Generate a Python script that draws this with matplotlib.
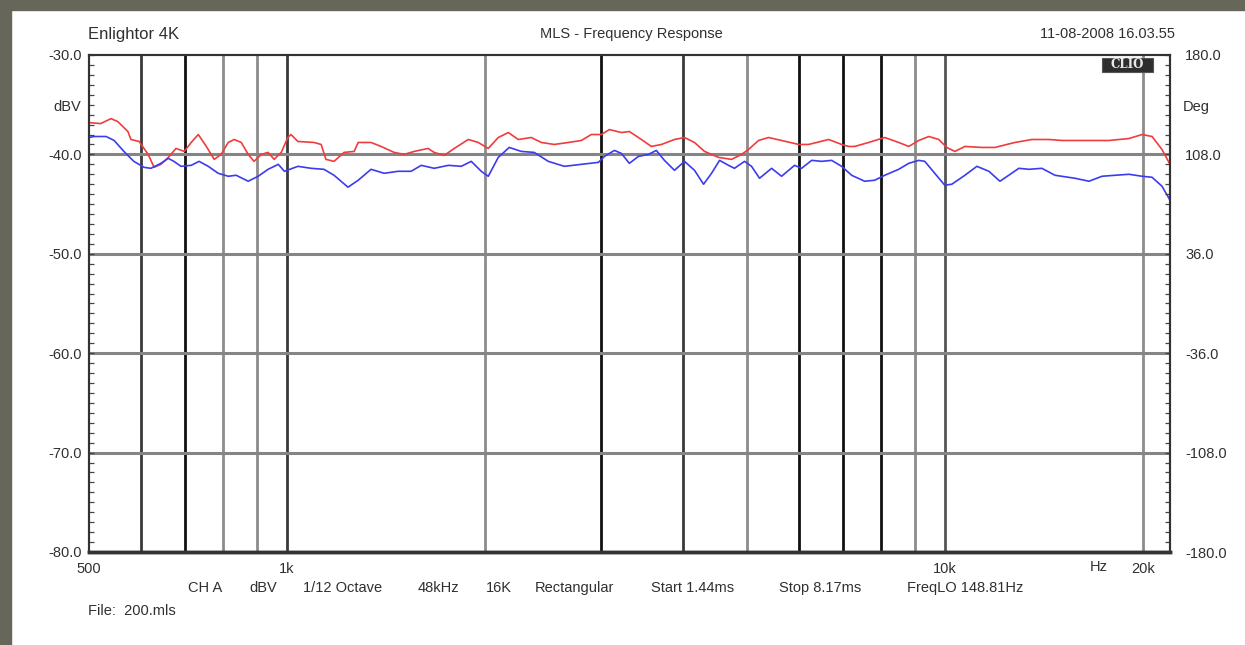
import matplotlib
matplotlib.use('Agg')
import matplotlib.pyplot as plt
from matplotlib.patches import Rectangle
from matplotlib.ticker import MultipleLocator, NullLocator

plt.rcParams['font.family'] = ['Liberation Sans', 'DejaVu Sans']

# ---------------- data ----------------
red_freq = [500, 521, 540, 553, 573, 579, 596, 615, 628, 643, 660, 678, 698, 715, 733, 754, 775, 794,
            814, 831, 852, 873, 891, 914, 936, 956, 980, 1003, 1014, 1039, 1099, 1127, 1146, 1179, 1221,
            1265, 1283, 1342, 1390, 1455, 1507, 1561, 1639, 1674, 1734, 1796, 1886, 1953, 2023, 2095,
            2170, 2247, 2351, 2436, 2549, 2677, 2802, 2902, 3006, 3091, 3224, 3315, 3458, 3581, 3709,
            3882, 4021, 4164, 4313, 4529, 4741, 4910, 5031, 5211, 5397, 5648, 6000, 6209, 6660, 6970,
            7143, 7295, 7661, 8105, 8511, 8815, 9130, 9455, 9792, 10070, 10360, 10730, 11390, 11920,
            12780, 13570, 14400, 15070, 16160, 17770, 19060, 19950, 20660, 21390, 22000]
red_db = [-36.8, -36.9, -36.4, -36.7, -37.7, -38.5, -38.7, -40.0, -41.3, -41.0, -40.3, -39.4, -39.7,
          -38.8, -38.0, -39.2, -40.5, -40.0, -38.8, -38.5, -38.8, -40.0, -40.7, -40.0, -39.8, -40.5,
          -39.8, -38.3, -38.0, -38.7, -38.8, -39.0, -40.5, -40.7, -39.8, -39.7, -38.8, -38.8, -39.2,
          -39.8, -40.0, -39.7, -39.4, -39.8, -40.1, -39.4, -38.5, -38.8, -39.4, -38.3, -37.8, -38.5,
          -38.3, -38.8, -39.0, -38.8, -38.6, -38.0, -38.0, -37.5, -37.8, -37.7, -38.5, -39.2, -39.0,
          -38.5, -38.3, -38.8, -39.7, -40.3, -40.5, -40.0, -39.5, -38.6, -38.3, -38.6, -39.0, -39.0,
          -38.5, -39.0, -39.2, -39.2, -38.8, -38.3, -38.8, -39.2, -38.6, -38.2, -38.5, -39.3, -39.7,
          -39.2, -39.3, -39.3, -38.8, -38.5, -38.5, -38.6, -38.6, -38.6, -38.4, -38.0, -38.2, -39.5,
          -41.0]

blue_freq = [500, 509, 531, 546, 565, 585, 606, 621, 643, 660, 673, 690, 715, 735, 759, 786, 814, 837,
             873, 904, 936, 970, 991, 1039, 1088, 1138, 1179, 1238, 1283, 1342, 1405, 1476, 1544, 1600,
             1674, 1759, 1840, 1906, 1974, 2023, 2095, 2177, 2271, 2376, 2496, 2640, 2802, 2975, 3038,
             3146, 3224, 3315, 3422, 3544, 3643, 3748, 3882, 4021, 4164, 4298, 4420, 4546, 4691, 4789,
             4961, 5084, 5229, 5454, 5648, 5911, 6058, 6276, 6499, 6730, 6970, 7218, 7553, 7825, 8105,
             8511, 8815, 9130, 9324, 9656, 10000, 10250, 10730, 11190, 11670, 12130, 12510, 12960,
             13430, 14050, 14710, 15770, 16570, 17340, 18150, 19060, 19950, 20660, 21390, 22000]
blue_db = [-38.3, -38.2, -38.2, -38.6, -39.7, -40.7, -41.3, -41.4, -40.9, -40.4, -40.7, -41.2, -41.1,
           -40.7, -41.2, -41.9, -42.2, -42.1, -42.7, -42.2, -41.5, -41.0, -41.7, -41.2, -41.4, -41.5,
           -42.1, -43.3, -42.6, -41.5, -41.9, -41.7, -41.7, -41.1, -41.4, -41.1, -41.2, -40.7, -41.7,
           -42.2, -40.3, -39.3, -39.7, -39.8, -40.7, -41.2, -41.0, -40.8, -40.2, -39.6, -39.9, -40.9,
           -40.2, -40.0, -39.6, -40.6, -41.6, -40.7, -41.6, -43.0, -41.9, -40.6, -41.1, -41.4, -40.7,
           -41.2, -42.4, -41.4, -42.2, -41.1, -41.4, -40.6, -40.7, -40.6, -41.2, -42.1, -42.7, -42.6,
           -42.1, -41.5, -40.9, -40.6, -40.7, -41.9, -43.1, -43.0, -42.1, -41.2, -41.7, -42.7, -42.1,
           -41.4, -41.5, -41.4, -42.1, -42.4, -42.7, -42.2, -42.1, -42.0, -42.2, -42.3, -43.2, -44.6]

grid_freqs = [600, 700, 800, 900, 1000, 2000, 3000, 4000, 5000, 6000, 7000, 8000, 9000, 10000, 20000]
grid_db = [-40, -50, -60, -70]
y_ticks = [-80, -70, -60, -50, -40, -30]
deg_ticks = [-180, -108, -36, 36, 108, 180]
x_ticks = [500, 1000, 10000, 20000]
x_tick_labels = ['500', '1k', '10k', '20k']

title_left = 'Enlightor 4K'
title_center = 'MLS - Frequency Response'
title_right = '11-08-2008 16.03.55'
info_items = ['CH A', 'dBV', '1/12 Octave', '48kHz', '16K', 'Rectangular',
              'Start 1.44ms', 'Stop 8.17ms', 'FreqLO 148.81Hz']
file_text = 'File:  200.mls'

# ---------------- style ----------------
W, H = 1245, 645
grid_colors = ['#3a3a3a', '#111111', '#8c8c8c', '#8c8c8c', '#3a3a3a', '#8c8c8c', '#111111', '#3a3a3a',
               '#8c8c8c', '#111111', '#111111', '#111111', '#8c8c8c', '#555555', '#8c8c8c']
info_x = [188, 249, 303, 418, 486, 535, 651, 779, 907]
TXT = '#303030'
FS = 10.5

fig = plt.figure(figsize=(W / 100, H / 100), dpi=100)
fig.patch.set_facecolor('white')
fig.patches.append(Rectangle((0, 1 - 10 / H), 1, 10 / H, transform=fig.transFigure,
                             color='#66665a', zorder=0))
fig.patches.append(Rectangle((0, 0), 11 / W, 1, transform=fig.transFigure,
                             color='#66665a', zorder=0))

L, R, T, B = 89, 1170, 55, 552
ax = fig.add_axes([L / W, 1 - B / H, (R - L) / W, (B - T) / H])
ax.set_xscale('log')
ax.set_xlim(500, 22000)
ax.set_ylim(-80, -30)

for f, c in zip(grid_freqs, grid_colors):
    ax.axvline(f, color=c, lw=2.0, zorder=1)
for y in grid_db:
    ax.axhline(y, color='#858585', lw=2.2, zorder=1)

ax.plot(red_freq, red_db, color='#f03c3c', lw=1.2, zorder=3)
ax.plot(blue_freq, blue_db, color='#3c3cee', lw=1.2, zorder=3)

ax.set_yticks(y_ticks)
ax.set_yticklabels([f'{v:.1f}' for v in y_ticks])
ax.yaxis.set_minor_locator(MultipleLocator(1))
ax.tick_params(axis='y', which='both', direction='in', length=3.5, width=0.9, color='#444444',
               pad=5, labelsize=FS, labelcolor=TXT)
ax.set_xticks(x_ticks)
ax.set_xticklabels(x_tick_labels)
ax.xaxis.set_minor_locator(NullLocator())
ax.tick_params(axis='x', which='both', length=0, pad=7, labelsize=FS, labelcolor=TXT)

ax2 = ax.twinx()
ax2.set_ylim(-180, 180)
ax2.set_yticks(deg_ticks)
ax2.set_yticklabels([f'{v:.1f}' for v in deg_ticks])
ax2.yaxis.set_minor_locator(MultipleLocator(7.2))
ax2.tick_params(axis='y', which='both', direction='in', length=3.5, width=0.9, color='#444444',
                pad=11, labelsize=FS, labelcolor=TXT)

for a in (ax, ax2):
    for s in a.spines.values():
        s.set_color('#333333')
        s.set_linewidth(1.5)
    a.spines['bottom'].set_linewidth(2.5)

# CLIO logo box
ax2.add_patch(Rectangle((0.937, 0.966), 0.047, 0.028, transform=ax.transAxes,
                        facecolor='#2e2e2e', edgecolor='#555555', lw=0.8, zorder=6))
ax2.text(0.9605, 0.980, 'CLIO', transform=ax.transAxes, ha='center', va='center', fontsize=8.5,
         fontweight='bold', color='#e8e8e8', family='DejaVu Serif', zorder=7)

# texts
fig.text(88 / W, 1 - 34 / H, title_left, ha='left', va='center', fontsize=12, color=TXT)
fig.text(631 / W, 1 - 34 / H, title_center, ha='center', va='center', fontsize=10.5, color=TXT)
fig.text(1175 / W, 1 - 34 / H, title_right, ha='right', va='center', fontsize=10.5, color=TXT)
fig.text(81 / W, 1 - 107 / H, 'dBV', ha='right', va='center', fontsize=FS, color=TXT)
fig.text(1183 / W, 1 - 107 / H, 'Deg', ha='left', va='center', fontsize=FS, color=TXT)
fig.text(1099 / W, 1 - 567 / H, 'Hz', ha='center', va='center', fontsize=FS, color=TXT)
for t, x in zip(info_items, info_x):
    fig.text(x / W, 1 - 588 / H, t, ha='left', va='center', fontsize=FS, color=TXT)
fig.text(88 / W, 1 - 611 / H, file_text, ha='left', va='center', fontsize=FS, color=TXT)

fig.savefig('out.png', dpi=100, facecolor='white')
